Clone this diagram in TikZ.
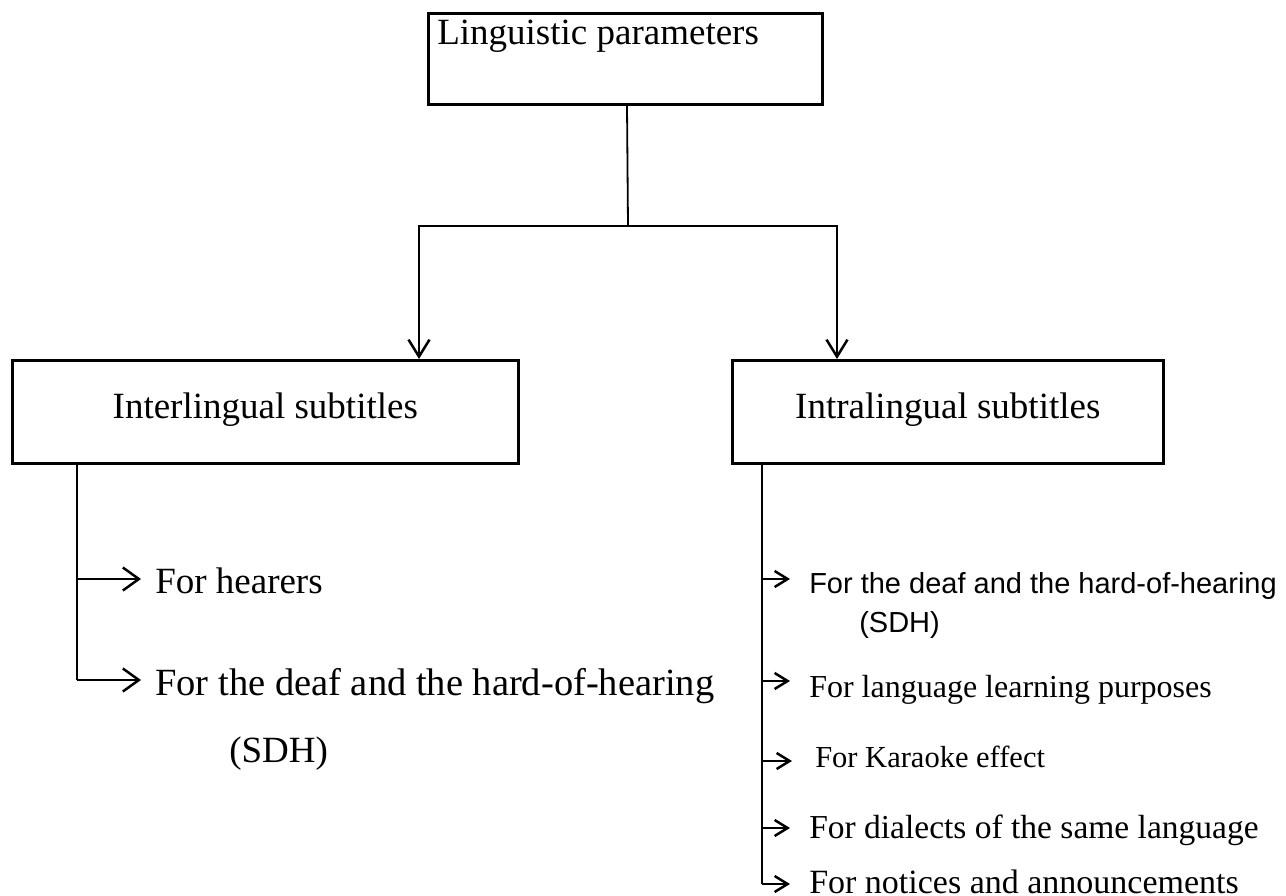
\documentclass[tikz,border=0pt]{standalone}
\usepackage{fontspec}
\setmainfont{Liberation Serif}
\newfontfamily\arialf{Liberation Sans}
\usetikzlibrary{arrows.meta}
\begin{document}
\begin{tikzpicture}[x=1pt,y=-1pt,
  line width=2.5pt,
  box/.style={draw, line width=2.6pt, inner sep=0pt, font=\fontsize{37pt}{44pt}\selectfont},
  itembig/.style={anchor=base west, inner sep=0pt, font=\fontsize{37pt}{44pt}\selectfont},
  itemser/.style={anchor=base west, inner sep=0pt},
  itemsans/.style={anchor=base west, inner sep=0pt, font=\arialf\fontsize{29pt}{35pt}\selectfont},
  downarr/.style={-{Straight Barb[length=17pt,width=21pt,line width=2.5pt]}},
  bigarr/.style={-{Straight Barb[length=16pt,width=23pt,line width=2.5pt]}},
  smallarr/.style={-{Straight Barb[length=13pt,width=16pt,line width=2.5pt]}}]
\useasboundingbox (0,0) rectangle (1286,896);

% boxes
\node[box, inner xsep=9pt, text height=31pt, text depth=60pt, anchor=north west]
  (top) at (427,12) {\makebox[376pt][l]{Linguistic parameters}};
\node[box, minimum width=506pt, text height=58pt, text depth=45pt, anchor=north west]
  (inter) at (11,359) {Interlingual subtitles};
\node[box, minimum width=431pt, text height=58pt, text depth=45pt, anchor=north west]
  (intra) at (731,359) {Intralingual subtitles};

% top connectors
\coordinate (j) at (628,226);
\coordinate (bl) at (419,226);
\coordinate (br) at (837,226);
\draw[line width=1.8pt] (top.south -| 627,0) -- (j);
\draw[downarr] (j) -- (bl) -- (bl |- inter.north);
\draw[downarr] (j) -- (br) -- (br |- intra.north);

% left items
\node[itembig] (l1) at (154,593) {For hearers};
\node[itembig, font=\fontsize{38.5pt}{46pt}\selectfont] (l2) at (154,695) {For the deaf and the hard-of-hearing};
\node[itembig] (l3) at (228,762) {(SDH)};
\coordinate (lt) at (77,462);
\coordinate (la) at (77,579);
\coordinate (lb) at (77,680);
\draw (lt) -- (lb);
\draw[bigarr] (la) -- ([xshift=-13pt]la -| l1.west);
\draw[bigarr] (lb) -- ([xshift=-13pt]lb -| l2.west);

% right items
\node[itemsans] (r1) at (808,593) {For the deaf and the hard-of-hearing};
\node[itemsans] (r1b) at (858,632) {(SDH)};
\node[itemser, font=\fontsize{32pt}{38pt}\selectfont] (r2) at (808,697) {For language learning purposes};
\node[itemser, font=\fontsize{30.5pt}{37pt}\selectfont] (r3) at (814,767) {For Karaoke effect};
\node[itemser, font=\fontsize{33.5pt}{40pt}\selectfont] (r4) at (808,838) {For dialects of the same language};
\node[itemser, font=\fontsize{34pt}{40pt}\selectfont] (r5) at (808,893) {For notices and announcements};
\coordinate (rt) at (762,462);
\coordinate (ra) at (762,579);
\coordinate (rb) at (762,681);
\coordinate (rc) at (762,761);
\coordinate (rd) at (762,828);
\coordinate (re) at (762,884);
\draw (rt) -- (re);
\draw[smallarr] (ra) -- ([xshift=-18pt]ra -| r1.west);
\draw[smallarr] (rb) -- ([xshift=-18pt]rb -| r2.west);
\draw[smallarr] (rc) -- ([xshift=-22pt]rc -| r3.west);
\draw[smallarr] (rd) -- ([xshift=-18pt]rd -| r4.west);
\draw[smallarr] (re) -- ([xshift=-18pt]re -| r5.west);
\end{tikzpicture}
\end{document}
